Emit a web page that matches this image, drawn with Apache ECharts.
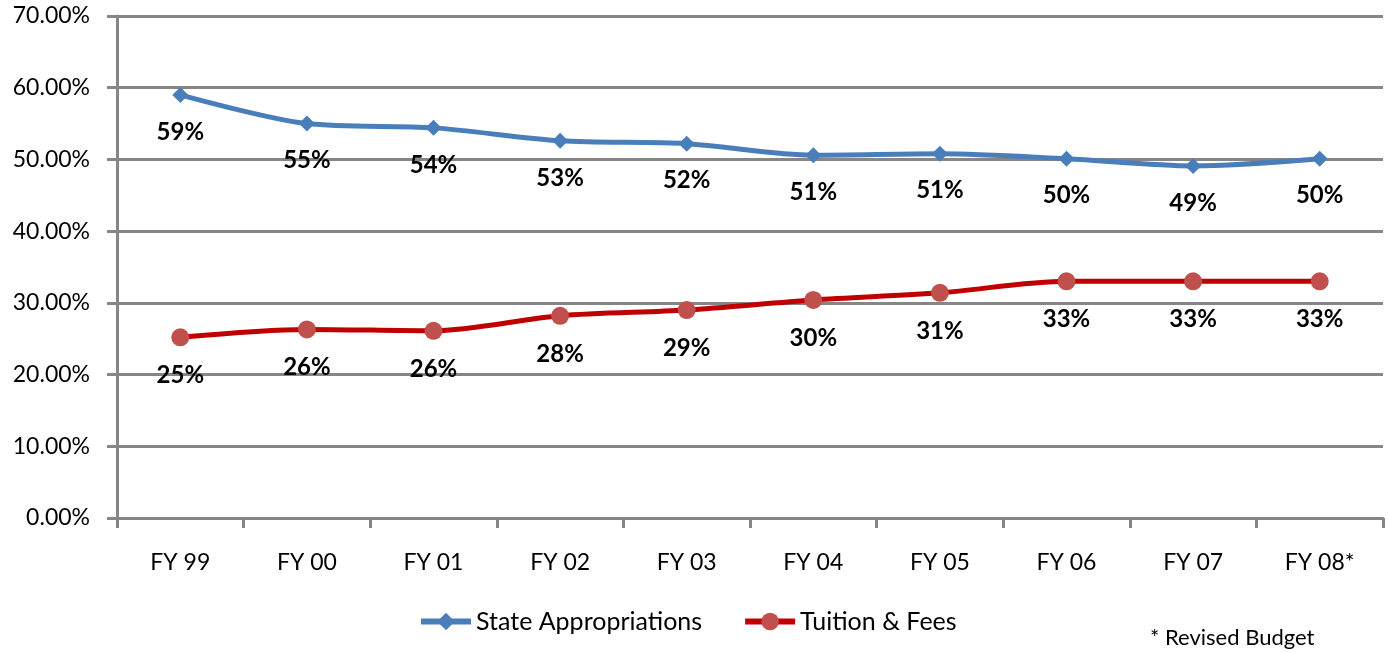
<!DOCTYPE html>
<html>
<head>
<meta charset="utf-8">
<script src="https://cdn.jsdelivr.net/npm/echarts@6/dist/echarts.min.js"></script>
<style>
  html, body { margin: 0; padding: 0; background: #fff; }
  #chart { width: 1388px; height: 653px; }
</style>
</head>
<body>
<div id="chart"></div>
<script>
// data
const years = ['FY 99', 'FY 00', 'FY 01', 'FY 02', 'FY 03', 'FY 04', 'FY 05', 'FY 06', 'FY 07', 'FY 08*']
const stateApprop = [59.0, 55.0, 54.4, 52.6, 52.2, 50.6, 50.8, 50.1, 49.1, 50.1]
const tuitionFees = [25.2, 26.3, 26.1, 28.2, 29.0, 30.4, 31.4, 33.0, 33.0, 33.0]
const yTicks = [0, 10, 20, 30, 40, 50, 60, 70]

const font = 'Lato, "Open Sans", sans-serif'

var dom = document.getElementById('chart')
var myChart = echarts.init(dom)

const pctLabel = {
  show: true,
  position: 'bottom',
  distance: 17,
  fontFamily: font,
  fontSize: 24,
  fontWeight: 'bold',
  color: '#000',
  formatter: p => Math.round(p.value) + '%'
}

option = {
  animation: false,
  grid: { left: 117, right: 5, top: 16, bottom: 135 },
  legend: {
    left: 413,
    top: 604,
    itemWidth: 50,
    itemHeight: 22,
    itemGap: 40,
    lineStyle: { width: 6 },
    textStyle: { fontFamily: font, fontSize: 25, color: '#000' },
    data: ['State Appropriations', 'Tuition & Fees']
  },
  graphic: [{
    type: 'text',
    left: 1150,
    top: 627,
    style: { text: '* Revised Budget', fontFamily: font, fontSize: 22, fill: '#000' }
  }],
  xAxis: {
    type: 'category',
    data: years,
    boundaryGap: true,
    axisLine: { lineStyle: { color: '#868686', width: 3 } },
    axisTick: { show: true, length: 10, lineStyle: { color: '#868686', width: 3 } },
    axisLabel: { margin: 33, fontFamily: font, fontSize: 23, color: '#000' }
  },
  yAxis: {
    type: 'value',
    min: yTicks[0],
    max: yTicks[yTicks.length - 1],
    interval: 10,
    axisLine: { show: true, lineStyle: { color: '#868686', width: 3 } },
    axisTick: { show: true, length: 10, lineStyle: { color: '#868686', width: 3 } },
    splitLine: { lineStyle: { color: '#868686', width: 3 } },
    axisLabel: {
      margin: 27,
      fontFamily: font,
      fontSize: 23,
      color: '#000',
      formatter: v => v.toFixed(2) + '%'
    }
  },
  series: [{
    name: 'State Appropriations',
    type: 'line',
    data: stateApprop,
    smooth: 0.3,
    symbol: 'diamond',
    symbolSize: 16,
    lineStyle: { color: '#4a7ebb', width: 5 },
    itemStyle: { color: '#4a7ebb' },
    label: pctLabel
  }, {
    name: 'Tuition & Fees',
    type: 'line',
    data: tuitionFees,
    smooth: 0.3,
    symbol: 'circle',
    symbolSize: 18,
    lineStyle: { color: '#c00000', width: 5 },
    itemStyle: { color: '#c0504d' },
    label: pctLabel
  }]
}

if (option && typeof option === 'object') {
  myChart.setOption(option, true)
}
</script>
</body>
</html>
